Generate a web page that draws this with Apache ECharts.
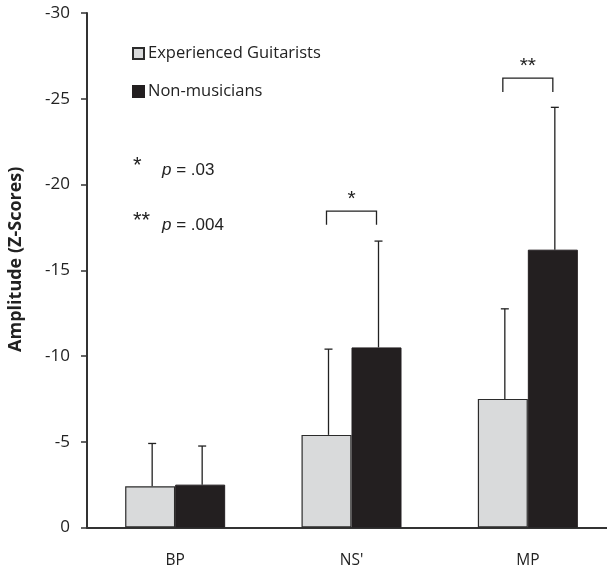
<!DOCTYPE html>
<html>
<head>
<meta charset="utf-8">
<script src="https://cdn.jsdelivr.net/npm/echarts@6/dist/echarts.min.js"></script>
<style>html,body{margin:0;padding:0;background:#fff;}#c{width:607px;height:568px;}</style>
</head>
<body>
<div id="c"></div>
<script>
const categories = ["BP", "NS'", "MP"];
const seriesNames = ["Experienced Guitarists", "Non-musicians"];
const guitarists = [-2.4, -5.4, -7.5];
const nonMusicians = [-2.5, -10.5, -16.2];
const guitaristsErrTop = [-4.9, -10.4, -12.75];
const nonMusiciansErrTop = [-4.75, -16.7, -24.5];
const yTicks = [0, -5, -10, -15, -20, -25, -30];
// significance brackets: [categoryIndex, legEnd, top, label]
const brackets = [[1, -17.65, -18.45, "*"], [2, -25.4, -26.2, "**"]];

const chart = echarts.init(document.getElementById('c'), null, {renderer: 'canvas'});
const AX = '#333333';
const BAR_W = 50;

function errRender(offset) {
  return function (params, api) {
    const base = api.coord([api.value(0), api.value(1)]);
    const top = api.coord([api.value(0), api.value(2)]);
    const x = base[0] + offset + 2;
    return {
      type: 'group',
      children: [
        {type: 'line', shape: {x1: x, y1: base[1], x2: x, y2: top[1]}, style: {stroke: '#222', lineWidth: 1.3}},
        {type: 'line', shape: {x1: x - 4, y1: top[1], x2: x + 4, y2: top[1]}, style: {stroke: '#222', lineWidth: 1.3}}
      ]
    };
  };
}

const option = {
  animation: false,
  backgroundColor: '#fff',
  grid: {left: 87, top: 13, right: -9, height: 514.5, containLabel: false, outerBoundsMode: 'none'},
  legend: {
    data: seriesNames,
    orient: 'vertical',
    left: 127,
    top: 40,
    itemWidth: 11,
    itemHeight: 11,
    itemGap: 21,
    icon: 'rect',
    textStyle: {fontFamily: 'Open Sans', fontSize: 16.5, color: '#222', padding: [0, 0, 0, -1]}
  },
  xAxis: {
    type: 'category',
    data: categories,
    axisLine: {lineStyle: {color: AX, width: 2}},
    axisTick: {show: false},
    axisLabel: {fontFamily: 'Open Sans', fontSize: 15.5, color: '#222', margin: 25}
  },
  yAxis: {
    type: 'value',
    min: -30, max: 0, interval: 5,
    inverse: true,
    name: 'Amplitude (Z-Scores)',
    nameLocation: 'middle',
    nameGap: 62,
    nameTextStyle: {fontFamily: 'Open Sans', fontWeight: 'bold', fontSize: 18, color: '#222', padding: [0, 0, 0, 22]},
    splitLine: {show: false},
    axisLine: {show: true, lineStyle: {color: AX, width: 2}},
    axisTick: {show: true, length: 6, lineStyle: {color: AX, width: 1.5}},
    axisLabel: {fontFamily: 'Open Sans', fontSize: 17, color: '#222', margin: 17,
      formatter: v => yTicks.indexOf(v) >= 0 ? String(v) : ''}
  },
  series: [
    {
      name: seriesNames[0], type: 'bar', data: guitarists, barWidth: BAR_W, barGap: '0%',
      itemStyle: {color: '#d9dadb', borderColor: '#2b2b2b', borderWidth: 1.2}, z: 2
    },
    {
      name: seriesNames[1], type: 'bar', data: nonMusicians, barWidth: BAR_W, barGap: '0%',
      itemStyle: {color: '#231f20', borderColor: '#231f20', borderWidth: 1}, z: 2
    },
    {
      type: 'custom', name: 'errG', z: 1,
      data: categories.map((c, i) => [i, guitarists[i], guitaristsErrTop[i]]),
      renderItem: errRender(-BAR_W / 2)
    },
    {
      type: 'custom', name: 'errN', z: 1,
      data: categories.map((c, i) => [i, nonMusicians[i], nonMusiciansErrTop[i]]),
      renderItem: errRender(BAR_W / 2)
    },
    {
      type: 'custom', name: 'brackets', z: 3,
      data: brackets.map(b => [b[0], b[1], b[2], b[3]]),
      renderItem: function (params, api) {
        const leg = api.coord([api.value(0), api.value(1)]);
        const top = api.coord([api.value(0), api.value(2)]);
        const xl = leg[0] - BAR_W / 2, xr = leg[0] + BAR_W / 2;
        const lbl = brackets[params.dataIndex][3];
        return {
          type: 'group',
          children: [
            {type: 'polyline', shape: {points: [[xl, leg[1]], [xl, top[1]], [xr, top[1]], [xr, leg[1]]]},
              style: {stroke: '#222', lineWidth: 1.3, fill: null}},
            {type: 'text', x: leg[0], y: top[1] - 12,
              style: {text: lbl, fontFamily: 'Liberation Sans', fontSize: 21, fill: '#222', align: 'center', verticalAlign: 'middle'}}
          ]
        };
      }
    }
  ],
  graphic: [
    {type: 'text', left: 133, top: 155, style: {text: '*', fontFamily: 'Liberation Sans', fontSize: 22, fill: '#222'}},
    {type: 'text', left: 162, top: 162, style: {
      text: '{i|p} = .03', fontFamily: 'Liberation Sans', fontSize: 17, fill: '#222',
      rich: {i: {fontStyle: 'italic', fontFamily: 'Liberation Sans', fontSize: 17, fill: '#222'}}}},
    {type: 'text', left: 133, top: 210, style: {text: '**', fontFamily: 'Liberation Sans', fontSize: 22, fill: '#222'}},
    {type: 'text', left: 162, top: 217, style: {
      text: '{i|p} = .004', fontFamily: 'Liberation Sans', fontSize: 17, fill: '#222',
      rich: {i: {fontStyle: 'italic', fontFamily: 'Liberation Sans', fontSize: 17, fill: '#222'}}}}
  ]
};
chart.setOption(option);
</script>
</body>
</html>
